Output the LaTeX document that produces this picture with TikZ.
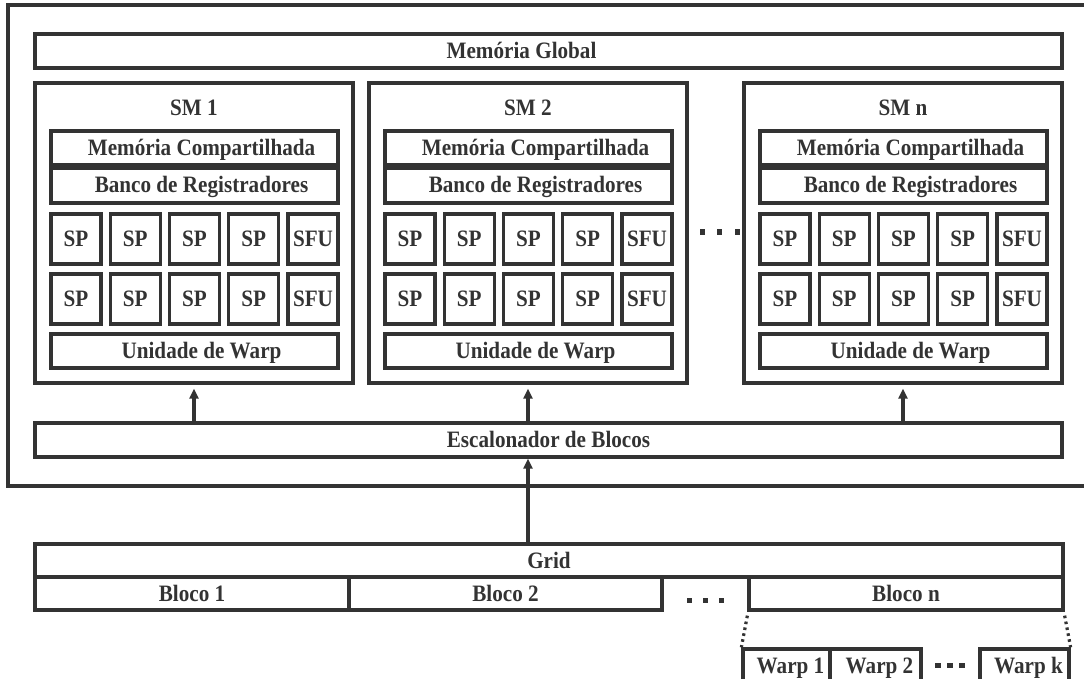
\documentclass[tikz,border=0pt]{standalone}
\usepackage{fontspec}
\setmainfont{Liberation Serif}[FakeStretch=0.9]
\usetikzlibrary{arrows.meta}
\definecolor{ink}{HTML}{333333}
\begin{document}
\begin{tikzpicture}[x=1pt,y=-1pt,
  box/.style={draw=ink, line width=3.3pt, rectangle, inner sep=0pt, text=ink,
    font=\bfseries\fontsize{23.5}{26}\selectfont, text height=15pt, text depth=0pt},
  lbl/.style={inner sep=0pt, text=ink, font=\bfseries\fontsize{23.5}{26}\selectfont,
    text height=15pt, text depth=0pt},
  arr/.style={draw=ink, line width=3.3pt, -{Triangle[width=9pt,length=10pt]}},
  dot/.style={fill=ink},
  link/.style={draw=ink, line width=3.2pt, dash pattern=on 2.6pt off 3.4pt}]
\useasboundingbox (0,0) rectangle (1084,679);
\clip (0,0) rectangle (1084,679);
% outer frame (right side runs off the picture)
\draw[draw=ink, line width=3.3pt] (1090,5) -- (8,5) -- (8,486) -- (1090,486);
% global memory
\node[box, minimum width=1027pt, minimum height=34pt] (mg) at (548.5,51) {\hspace*{-54pt}Memória Global};
% SMs
\foreach \o/\n/\t in {0/1/SM 1, 334/2/SM 2, 709/n/SM n}{
  \node[box, minimum width=318pt, minimum height=300pt] (sm\n) at (194+\o,233) {};
  \node[lbl] (sm\n t) at (194+\o,108) {\t};
  \node[box, minimum width=287pt, minimum height=34pt] (mc\n) at (194.5+\o,148) {\hspace*{14pt}Memória Compartilhada};
  \node[box, minimum width=287pt, minimum height=35pt] (br\n) at (194.5+\o,185.5) {\hspace*{14pt}Banco de Registradores};
  \foreach \c/\lab [count=\k] in {76/SP,135.25/SP,194.5/SP,253.75/SP,313/SFU}{
    \node[box, minimum width=50pt, minimum height=50pt] (spa\n\k) at (\c+\o,239) {\lab};
    \node[box, minimum width=50pt, minimum height=50pt] (spb\n\k) at (\c+\o,299) {\lab};
  }
  \node[box, minimum width=287pt, minimum height=34pt] (uw\n) at (194.5+\o,351) {\hspace*{14pt}Unidade de Warp};
}
% dots between SM 2 and SM n
\foreach \x in {702,719.5,737}{\fill[dot] (\x-2.5,229.5) rectangle (\x+2.5,234.5);}
% block scheduler
\node[box, minimum width=1027pt, minimum height=34pt] (esc) at (548.5,440) {Escalonador de Blocos};
\foreach \n in {1,2,n}{
  \draw[arr, shorten >=4pt] (esc.north -| sm\n.south) -- (sm\n.south);
}
% grid
\node[box, minimum width=1028pt, minimum height=33pt] (grid) at (549,560.5) {Grid};
\node[box, minimum width=314pt, minimum height=33pt] (b1) at (192,593.5) {Bloco 1};
\node[box, minimum width=313pt, minimum height=33pt] (b2) at (505.5,593.5) {Bloco 2};
\node[box, minimum width=314pt, minimum height=33pt] (bn) at (906,593.5) {Bloco n};
\draw[arr] (grid.north -| sm2.south) -- (esc.south -| sm2.south);
\foreach \x in {689,705,721}{\fill[dot] (\x-2.5,598) rectangle (\x+2.5,603);}
% warps
\node[box, minimum width=87pt, minimum height=34pt] (wp1) at (786.5,666) {\hspace*{8pt}Warp 1};
\node[box, minimum width=91pt, minimum height=34pt] (wp2) at (875.5,666) {\hspace*{8pt}Warp 2};
\node[box, minimum width=89pt, minimum height=34pt] (wpk) at (1024.5,666) {\hspace*{8pt}Warp k};
\foreach \x in {938,950,962}{\fill[dot] (\x-3,663) rectangle (\x+3,667.5);}
\draw[link] (bn.south west) ++(0,4) -- (wp1.north west);
\draw[link] (bn.south east) ++(0,4) -- (wpk.north east);
\end{tikzpicture}
\end{document}
